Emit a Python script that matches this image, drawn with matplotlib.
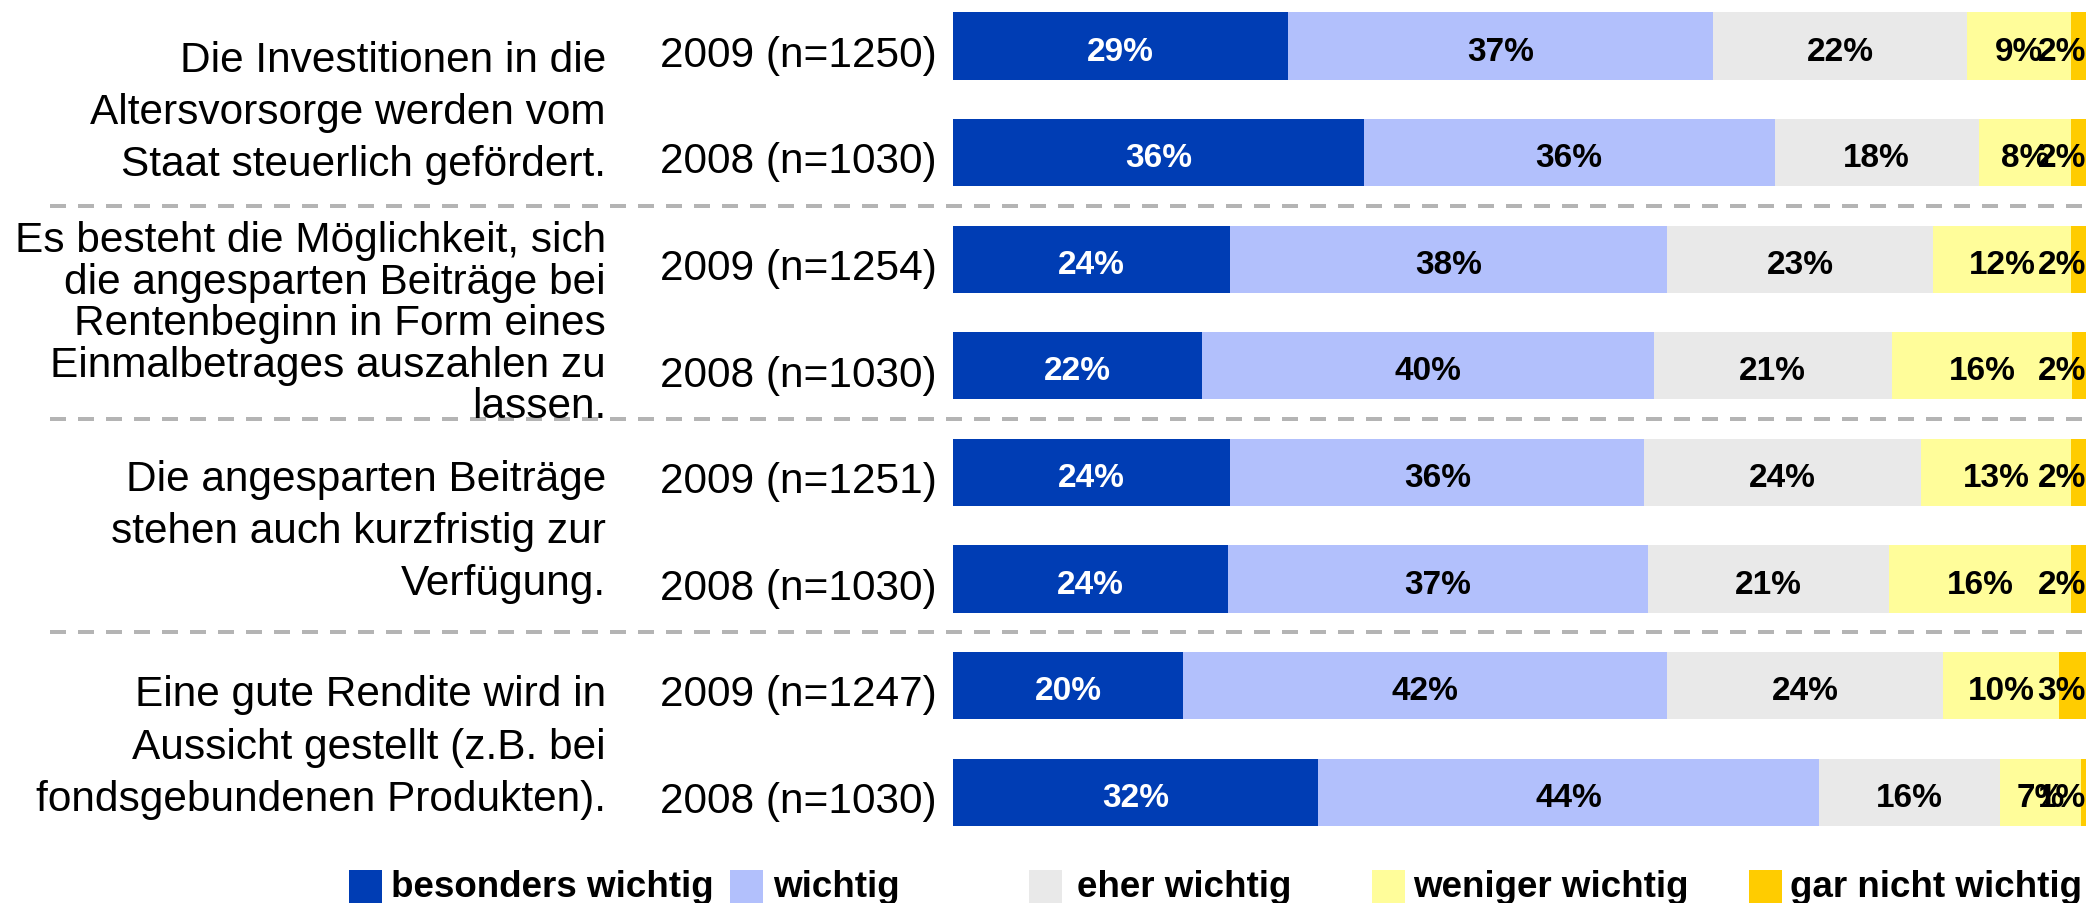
import matplotlib
matplotlib.use("Agg")
import matplotlib.pyplot as plt
from matplotlib.patches import Rectangle
import numpy as np

plt.rcParams['font.family'] = ['Liberation Sans', 'DejaVu Sans']

# ---------------- data ----------------
categories = [
    "Die Investitionen in die\nAltersvorsorge werden vom\nStaat steuerlich gefördert.",
    "Es besteht die Möglichkeit, sich\ndie angesparten Beiträge bei\nRentenbeginn in Form eines\nEinmalbetrages auszahlen zu\nlassen.",
    "Die angesparten Beiträge\nstehen auch kurzfristig zur\nVerfügung.",
    "Eine gute Rendite wird in\nAussicht gestellt (z.B. bei\nfondsgebundenen Produkten).",
]
row_labels = ["2009 (n=1250)", "2008 (n=1030)",
              "2009 (n=1254)", "2008 (n=1030)",
              "2009 (n=1251)", "2008 (n=1030)",
              "2009 (n=1247)", "2008 (n=1030)"]
series_names = ["besonders wichtig", "wichtig", "eher wichtig",
                "weniger wichtig", "gar nicht wichtig"]
besonders_wichtig = [29.4, 36.0, 24.3, 21.8, 24.3, 24.1, 20.2, 32.0]
wichtig           = [37.2, 36.0, 38.3, 39.6, 36.3, 36.8, 42.4, 43.9]
eher_wichtig      = [22.3, 17.9, 23.3, 20.9, 24.2, 21.1, 24.2, 15.9]
weniger_wichtig   = [9.1, 8.1, 12.1, 15.8, 13.2, 16.0, 10.1, 7.1]
gar_nicht_wichtig = [2.0, 2.0, 2.0, 2.0, 2.0, 2.0, 3.1, 1.1]

series_values = [besonders_wichtig, wichtig, eher_wichtig,
                 weniger_wichtig, gar_nicht_wichtig]
colors = ["#003DB4", "#B2C0FC", "#E9E9E9", "#FFFD9A", "#FFCC00"]
text_colors = ["white", "black", "black", "black", "black"]

# ---------------- figure ----------------
W, H = 2086, 904
fig = plt.figure(figsize=(W / 100, H / 100), dpi=100)

ax_left_px, ax_top_px, ax_bottom_px = 953, 0, 853
ax = fig.add_axes([ax_left_px / W, 1 - ax_bottom_px / H,
                   1 - ax_left_px / W, (ax_bottom_px - ax_top_px) / H])
row_pitch = 106.6
row0 = 47.0
ax.set_ylim((ax_bottom_px - row0) / row_pitch, (ax_top_px - row0) / row_pitch)
xmax = 99.3
ax.set_xlim(0, xmax)
ax.axis('off')

y = np.arange(len(row_labels))
left = np.zeros(len(row_labels))
for j, vals in enumerate(series_values):
    vals = np.array(vals)
    ax.barh(y, vals, left=left, height=0.63, color=colors[j], linewidth=0)
    for i, v in enumerate(vals):
        c = left[i] + v / 2
        if c + 2.2 > xmax:
            x, ha = xmax, 'right'
        else:
            x, ha = c, 'center'
        ax.text(x, y[i] + 0.015, f"{v:.0f}%", ha=ha, va='center_baseline',
                fontsize=24, fontweight='bold', color=text_colors[j],
                clip_on=False)
    left = left + vals

# year labels
yr_x = (937 - ax_left_px) / (W - ax_left_px)
for i, lab in enumerate(row_labels):
    ax.text(yr_x, y[i] + 0.04, lab, transform=ax.get_yaxis_transform(),
            ha='right', va='center_baseline', fontsize=30.5, clip_on=False)

# category labels
cat_x = (606 - ax_left_px) / (W - ax_left_px)
cat_offsets = [0.12, 0.10, 0.05, 0.075]
for g, cat in enumerate(categories):
    nlines = cat.count("\n") + 1
    ls = 1.05 if nlines > 3 else 1.40
    ax.text(cat_x, 2 * g + 0.5 + cat_offsets[g], cat,
            transform=ax.get_yaxis_transform(),
            ha='right', va='center', multialignment='right', fontsize=30.5,
            linespacing=ls, clip_on=False)

# dashed separators
sep_x0 = (50 - ax_left_px) / (W - ax_left_px)
for g in range(len(categories) - 1):
    yy = 2 * g + 1.5
    ax.plot([sep_x0, 1.0], [yy, yy], transform=ax.get_yaxis_transform(),
            color="#B4B4B4", lw=2.88, linestyle=(0, (4, 3)),
            solid_capstyle='butt', dash_capstyle='butt', clip_on=False)

# legend
marker_px = [349, 730, 1029, 1372, 1749]
text_px = [391, 773, 1077, 1413, 1790]
msize = 33
for j, name in enumerate(series_names):
    fig.add_artist(Rectangle((marker_px[j] / W, 0), msize / W, msize / H,
                             transform=fig.transFigure, facecolor=colors[j],
                             edgecolor='none'))
    fig.text(text_px[j] / W, 7 / H, name, ha='left', va='baseline',
             fontsize=26.5, fontweight='bold')

fig.savefig("out.png", dpi=100)
